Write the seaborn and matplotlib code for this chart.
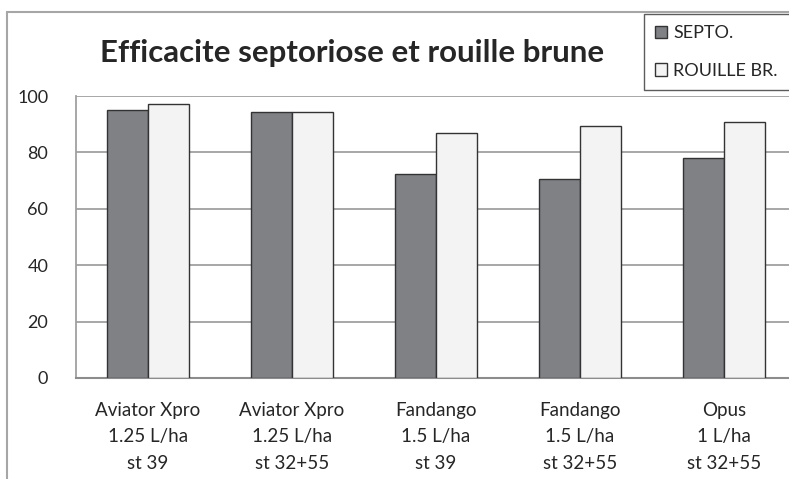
import matplotlib
matplotlib.use("Agg")
import matplotlib.pyplot as plt
from matplotlib.patches import Rectangle
import seaborn as sns
import pandas as pd

categories = ["Aviator Xpro\n1.25 L/ha\nst 39",
              "Aviator Xpro\n1.25 L/ha\nst 32+55",
              "Fandango\n1.5 L/ha\nst 39",
              "Fandango\n1.5 L/ha\nst 32+55",
              "Opus\n1 L/ha\nst 32+55"]
septo = [95.0, 94.5, 72.3, 70.6, 77.9]
rouille = [97.2, 94.5, 86.8, 89.4, 90.7]
series = ["SEPTO.", "ROUILLE BR."]
colors = ["#808184", "#F2F3F2"]

df = pd.DataFrame({
    "cat": categories * 2,
    "val": septo + rouille,
    "serie": [series[0]] * 5 + [series[1]] * 5,
})

sns.set_style("white")
plt.rcParams["font.family"] = ["Lato", "DejaVu Sans"]
txt = "#262626"

W, H = 789, 479
fig = plt.figure(figsize=(W / 100, H / 100), dpi=100)
# plot area in pixels: left 76, right 796, top 96, bottom 378
ax = fig.add_axes([76 / W, (H - 378) / H, 720 / W, 282 / H])

sns.barplot(data=df, x="cat", y="val", hue="serie", palette=colors,
            width=2 / 3.5, edgecolor="#333333", linewidth=1.0,
            saturation=1, ax=ax, legend=False, zorder=3)

ax.set_ylim(0, 100)
ax.set_yticks(range(0, 101, 20))
ax.yaxis.grid(True, color="#A0A0A0", linewidth=1.3, zorder=0)
ax.set_axisbelow(True)
ax.set_xlabel("")
ax.set_ylabel("")
ax.tick_params(axis="both", length=0, colors=txt)
ax.tick_params(axis="y", pad=20, labelsize=13)
ax.tick_params(axis="x", pad=17, labelsize=13.5)
for lab in ax.get_xticklabels():
    lab.set_linespacing(1.7)
for s in ["top", "right"]:
    ax.spines[s].set_visible(False)
ax.spines["left"].set_color("#A0A0A0")
ax.spines["bottom"].set_color("#8C8C8C")
ax.spines["left"].set_linewidth(1.3)
ax.spines["bottom"].set_linewidth(1.5)

# outer chart border (partly cropped)
fig.add_artist(Rectangle((7 / W, -0.2), 1.2, 1.2 - 12 / H, transform=fig.transFigure,
                         fill=False, edgecolor="#A6A6A6", linewidth=1.5))

fig.text(352 / W, 1 - 53 / H, "Efficacite septoriose et rouille brune",
         ha="center", va="center", fontsize=22.5, fontweight="bold", color=txt)

handles = [Rectangle((0, 0), 1, 1, facecolor=c, edgecolor="#333333", linewidth=1) for c in colors]
leg = fig.legend(handles, series, loc="upper left",
                 bbox_to_anchor=(644 / W, 1 - 14 / H - 0.01, 0.3, 0.01), mode="expand",
                 fontsize=13, handlelength=0.65, handleheight=0.65, handletextpad=0.35,
                 labelspacing=1.2, borderpad=0.62, borderaxespad=0, fancybox=False,
                 frameon=True, labelcolor=txt)
leg.get_frame().set_edgecolor("#333333")
leg.get_frame().set_linewidth(1.0)

fig.savefig("out.png", dpi=100)
